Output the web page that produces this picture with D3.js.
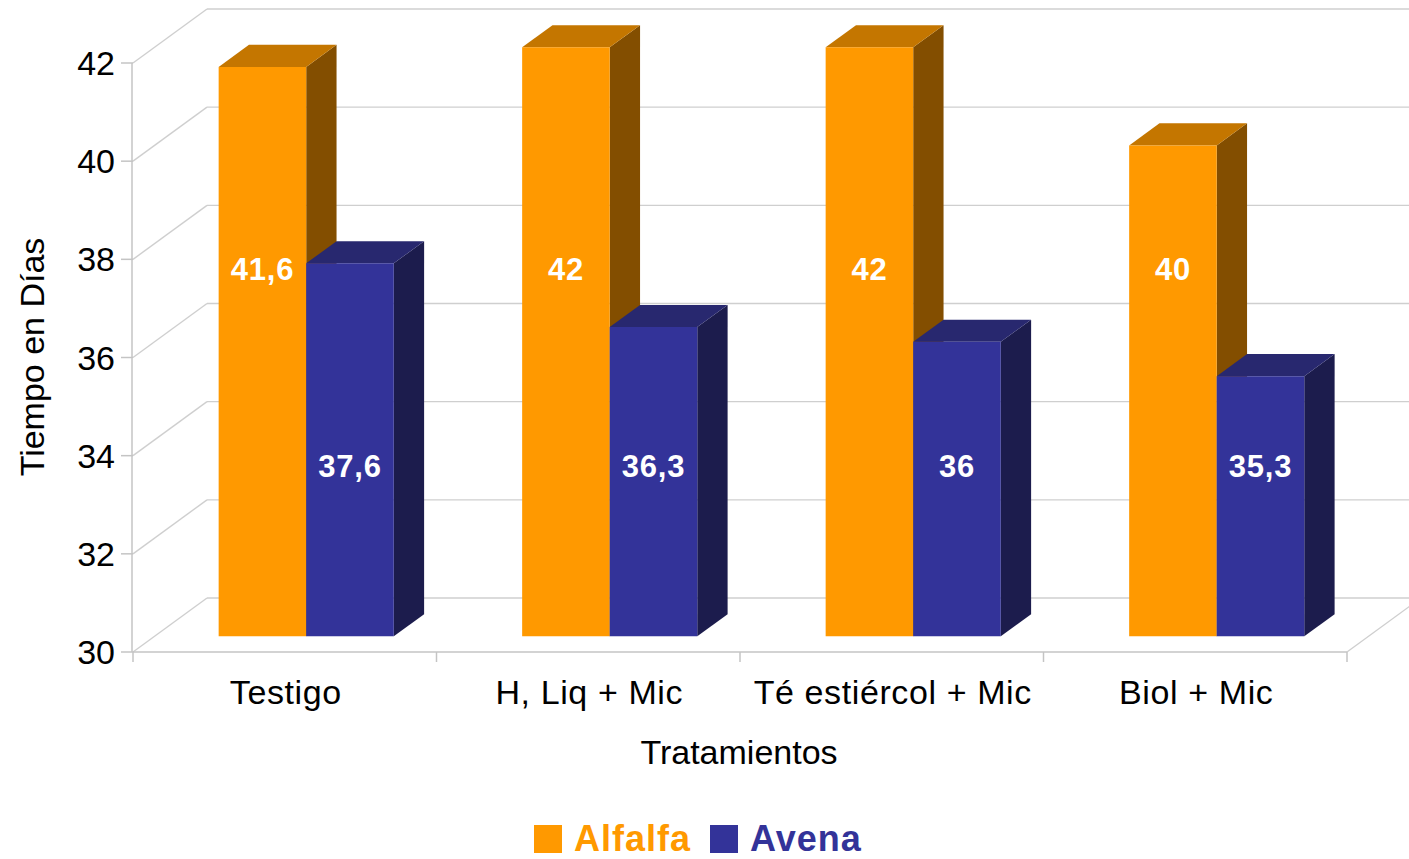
<!DOCTYPE html>
<html>
<head>
<meta charset="utf-8">
<script src="https://cdn.jsdelivr.net/npm/d3@7"></script>
<style>
  html, body { margin: 0; padding: 0; background: #ffffff; }
  svg { display: block; font-family: "Liberation Sans", Arial, sans-serif; }
</style>
</head>
<body>
<svg id="chart" width="1409" height="859"></svg>
<script>
// Days to reach the stage, per treatment and crop
const categories = ["Testigo", "H, Liq + Mic", "Té estiércol + Mic", "Biol + Mic"];
const seriesNames = ["Alfalfa", "Avena"];
const alfalfa = [41.6, 42, 42, 40];
const avena = [37.6, 36.3, 36, 35.3];
const yTicks = [30, 32, 34, 36, 38, 40, 42];

const colors = {
  Alfalfa: { front: "#ff9900", top: "#c47600", side: "#834e00" },
  Avena:   { front: "#333399", top: "#28286f", side: "#1c1c4d" }
};

const svg = d3.select("#chart");

// Front plane of the 3D box and the depth offset of its back wall
const left = 133, right = 1347;
const depthDX = 74, depthDY = -54;
const zFront = 0.29, zBack = 0.70;

const x = d3.scaleBand().domain(categories).range([left, right]).padding(0);
const y = d3.scaleLinear().domain([30, 42]).range([652, 63]);
const barW = x.bandwidth() * 0.2885;
const xs = d3.scaleBand().domain(seriesNames).range([0, barW * 2]).padding(0);

// oblique projection: front-plane x, data value, depth fraction
const P = (px, v, z) => [px + z * depthDX, y(v) + z * depthDY];
const poly = pts => pts.map(p => p.join(",")).join(" ");

const gridColor = "#cfcfcf";
const axisColor = "#c4c4c4";

// back wall gridlines and left wall diagonals
const grid = svg.append("g");
yTicks.forEach(t => {
  const [bx, by] = P(left, t, 1);
  const [ex] = P(right, t, 1);
  grid.append("line").attr("x1", bx).attr("y1", by).attr("x2", ex).attr("y2", by)
    .attr("stroke", gridColor).attr("stroke-width", 1.4);
  grid.append("line").attr("x1", left).attr("y1", y(t)).attr("x2", bx).attr("y2", by)
    .attr("stroke", gridColor).attr("stroke-width", 1.4);
});

// floor: front edge and right diagonal
const axes = svg.append("g");
axes.append("line").attr("x1", left).attr("y1", y(30)).attr("x2", right).attr("y2", y(30))
  .attr("stroke", axisColor).attr("stroke-width", 1.5);
{
  const [rx, ry] = P(right, 30, 1);
  axes.append("line").attr("x1", right).attr("y1", y(30)).attr("x2", rx).attr("y2", ry)
    .attr("stroke", gridColor).attr("stroke-width", 1.4);
}
// y axis line, ticks and labels
axes.append("line").attr("x1", left - 1).attr("y1", y(42)).attr("x2", left - 1).attr("y2", y(30))
  .attr("stroke", axisColor).attr("stroke-width", 1.5);
yTicks.forEach(t => {
  axes.append("line").attr("x1", left - 12).attr("y1", y(t)).attr("x2", left).attr("y2", y(t))
    .attr("stroke", axisColor).attr("stroke-width", 1.5);
  axes.append("text").attr("x", 115).attr("y", y(t) + 12)
    .attr("text-anchor", "end").attr("font-size", 34).attr("fill", "#000")
    .text(t);
});
// category separators on the x axis
d3.range(categories.length + 1).forEach(i => {
  const px = left + i * x.bandwidth();
  axes.append("line").attr("x1", px).attr("y1", y(30)).attr("x2", px).attr("y2", y(30) + 10)
    .attr("stroke", axisColor).attr("stroke-width", 1.5);
});
categories.forEach(c => {
  axes.append("text").attr("x", x(c) + x.bandwidth() / 2 + 1).attr("y", 704)
    .attr("text-anchor", "middle").attr("font-size", 34).attr("letter-spacing", 0.6)
    .attr("fill", "#000").text(c);
});

// axis titles
svg.append("text").attr("transform", "translate(44,357) rotate(-90)")
  .attr("text-anchor", "middle").attr("font-size", 34).attr("fill", "#000")
  .text("Tiempo en Días");
svg.append("text").attr("x", 739).attr("y", 764)
  .attr("text-anchor", "middle").attr("font-size", 34).attr("fill", "#000")
  .text("Tratamientos");

// bars, drawn left to right so later faces overlap earlier ones
const fmt = v => String(v).replace(".", ",");
const bars = svg.append("g");
const labelCenterY = { Alfalfa: 269, Avena: 466 };
categories.forEach((c, i) => {
  const values = { Alfalfa: alfalfa[i], Avena: avena[i] };
  seriesNames.forEach(s => {
    const v = values[s];
    const x0 = x(c) + x.bandwidth() / 2 - barW + xs(s);
    const x1 = x0 + xs.bandwidth();
    const col = colors[s];
    bars.append("polygon")
      .attr("points", poly([P(x1, 30, zFront), P(x1, 30, zBack), P(x1, v, zBack), P(x1, v, zFront)]))
      .attr("fill", col.side);
    bars.append("polygon")
      .attr("points", poly([P(x0, v, zFront), P(x1, v, zFront), P(x1, v, zBack), P(x0, v, zBack)]))
      .attr("fill", col.top);
    bars.append("polygon")
      .attr("points", poly([P(x0, 30, zFront), P(x1, 30, zFront), P(x1, v, zFront), P(x0, v, zFront)]))
      .attr("fill", col.front);
    const [fx] = P((x0 + x1) / 2, v, zFront);
    bars.append("text").attr("x", fx).attr("y", labelCenterY[s] + 11)
      .attr("text-anchor", "middle").attr("font-size", 31).attr("font-weight", "bold")
      .attr("letter-spacing", 0.8).attr("fill", "#ffffff").text(fmt(v));
  });
});

// legend
const legend = svg.append("g");
const legendItems = [
  { name: "Alfalfa", sx: 534, tx: 574 },
  { name: "Avena", sx: 710, tx: 750 }
];
legendItems.forEach(d => {
  legend.append("rect").attr("x", d.sx).attr("y", 825).attr("width", 28).attr("height", 28)
    .attr("fill", colors[d.name].front);
  legend.append("text").attr("x", d.tx).attr("y", 851)
    .attr("font-size", 36).attr("font-weight", "bold").attr("letter-spacing", 1)
    .attr("fill", colors[d.name].front).text(d.name);
});
</script>
</body>
</html>
